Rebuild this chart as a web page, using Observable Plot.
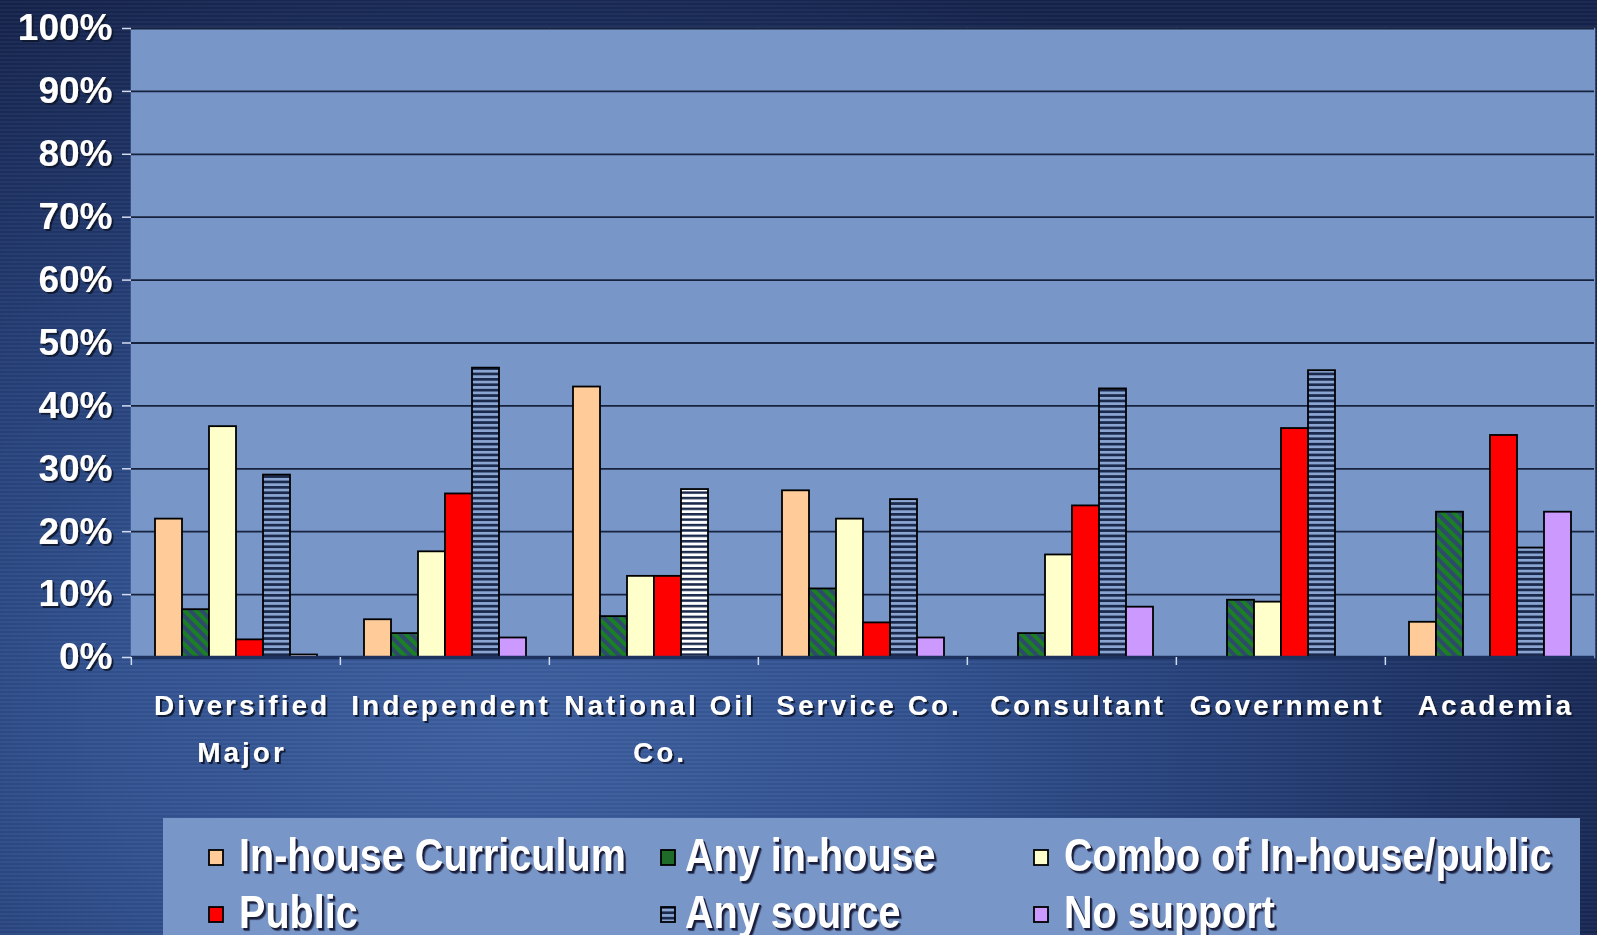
<!DOCTYPE html>
<html>
<head>
<meta charset="utf-8">
<script src="https://cdn.jsdelivr.net/npm/d3@7"></script>
<script src="https://cdn.jsdelivr.net/npm/@observablehq/plot@0.6"></script>
<style>
  html, body { margin: 0; padding: 0; }
  body {
    width: 1597px; height: 935px; overflow: hidden; position: relative;
    font-family: "Liberation Sans", Arial, sans-serif;
    background:
      repeating-linear-gradient(0deg, rgba(255,255,255,0.035) 0 2px, rgba(0,0,0,0.035) 2px 4px),
      radial-gradient(ellipse 75% 85% at 32% 78%, #3D5FA0 0%, #31518F 35%, #233C73 65%, #15234C 100%);
  }
  #chart { position: absolute; left: 0; top: 0; }
  #chart svg { overflow: visible; }
  g[aria-label="fx-axis tick label"] text { letter-spacing: 3px; filter: url(#txtShadow); }
  g[aria-label="y-axis tick label"] text { filter: url(#txtShadow); }
  #legend { position: absolute; left: 163px; top: 818px; width: 1417px; height: 140px; background: #7896C8; }
  .item { position: absolute; white-space: nowrap; }
  .item svg { position: absolute; }
  .item span {
    position: absolute; display: inline-block; transform: scaleX(0.86); transform-origin: left center;
    color: #fff; font-weight: bold; font-size: 46px; line-height: 46px;
    text-shadow: 2px 2px 0 #1b1f3c, 3px 3px 1px rgba(10,12,40,0.6);
  }
</style>
</head>
<body>
<svg width="0" height="0" style="position:absolute">
  <defs>
    <pattern id="diagGreen" width="8" height="8" patternUnits="userSpaceOnUse" patternTransform="rotate(-45)">
      <rect width="8" height="8" fill="#2E4B6C"></rect>
      <rect width="4" height="8" fill="#1B7F24"></rect>
    </pattern>
    <pattern id="stripeNavy" width="6" height="5.4" patternUnits="userSpaceOnUse">
      <rect width="6" height="5.4" fill="#8AA5D2"></rect>
      <rect width="6" height="2.7" fill="#1B2A4C"></rect>
    </pattern>
    <pattern id="stripeWhite" width="6" height="5.4" patternUnits="userSpaceOnUse">
      <rect width="6" height="5.4" fill="#FFFFFF"></rect>
      <rect width="6" height="2.5" fill="#1B2A4C"></rect>
    </pattern>
    <filter id="txtShadow" x="-10%" y="-20%" width="130%" height="150%">
      <feDropShadow dx="2" dy="2" stdDeviation="0.6" flood-color="#10142e" flood-opacity="0.9"></feDropShadow>
    </filter>
  </defs>
</svg>
<div id="chart"></div>
<div id="legend"></div>
<script>
// ---- data (percent of respondents) ----
const categories = ["Diversified\nMajor", "Independent", "National Oil\nCo.", "Service Co.", "Consultant", "Government", "Academia"];
const seriesNames = ["In-house Curriculum", "Any in-house", "Combo of In-house/public", "Public", "Any source", "No support"];
const inHouseCurriculum = [22, 6, 43, 26.5, null, null, 5.6];
const anyInHouse        = [7.6, 3.8, 6.5, 10.9, 3.8, 9.1, 23.1];
const comboInHousePublic= [36.7, 16.8, 12.9, 22, 16.3, 8.8, null];
const publicSupport     = [2.8, 26, 12.9, 5.5, 24.1, 36.4, 35.3];
const anySource         = [29, 46, 26.7, 25.1, 42.7, 45.6, 17.4];
const noSupport         = [0.4, 3.1, null, 3.1, 8, null, 23.1];
const yTicks = [0, 10, 20, 30, 40, 50, 60, 70, 80, 90, 100];

const seriesValues = [inHouseCurriculum, anyInHouse, comboInHousePublic, publicSupport, anySource, noSupport];

// ---- styles ----
const plotBg = "#7896C8";
const seriesFill = {
  "In-house Curriculum": "#FFCC99",
  "Any in-house": "url(#diagGreen)",
  "Combo of In-house/public": "#FFFFCC",
  "Public": "#FF0000",
  "Any source": "url(#stripeNavy)",
  "No support": "#CC99FF"
};
const swatchFill = Object.assign({}, seriesFill, {"Any in-house": "#1F6B2A"});
function fillOf(d) {
  if (d.series === "Any source" && d.category === "National Oil\nCo.") return "url(#stripeWhite)";
  if (d.series === "No support" && d.category === "Diversified\nMajor") return "#FFFFFF";
  return seriesFill[d.series];
}

const rows = [];
categories.forEach((c, i) => seriesNames.forEach((s, j) => {
  const v = seriesValues[j][i];
  if (v != null) rows.push({category: c, series: s, value: v});
}));

const W = 1597, H = 800, ML = 130, MR = 2, MT = 28, MB = 143;
const facetW = (W - ML - MR) / categories.length;
const dark = "#17223E";

const chart = Plot.plot({
  width: W, height: H,
  marginTop: MT, marginBottom: MB, marginLeft: ML, marginRight: MR,
  style: {background: "transparent", color: "#ffffff", fontFamily: "'Liberation Sans', Arial, sans-serif", fontWeight: "bold"},
  fx: {domain: categories, padding: 0, label: null},
  x: {domain: seriesNames, paddingInner: 0, paddingOuter: 0.75, axis: null},
  y: {domain: [0, 100], label: null},
  color: {type: "identity"},
  marks: [
    Plot.frame({fill: plotBg, stroke: plotBg, strokeWidth: 1.5}),
    Plot.ruleY(yTicks, {stroke: dark, strokeWidth: 1.8}),
    Plot.barY(rows, {fx: "category", x: "series", y: "value", fill: fillOf, stroke: "#000", strokeWidth: 1.8}),
    Plot.ruleY([0], {stroke: "#1E3260", strokeWidth: 3.5}),
    Plot.axisY({anchor: "left", ticks: yTicks, tickSize: 0, tickFormat: () => "", line: true, stroke: dark, strokeWidth: 2, label: null}),
    Plot.axisY({anchor: "right", ticks: yTicks, tickSize: 0, tickFormat: () => "", line: true, stroke: dark, strokeWidth: 2, label: null}),
    Plot.axisY({anchor: "left", ticks: yTicks, tickSize: 9, tickPadding: 10, tickFormat: d => d + "%", fontSize: 37, stroke: "#D2DCF0", strokeWidth: 1.5, label: null}),
    Plot.axisFx({anchor: "bottom", tickSize: 8, tickFormat: () => "", dx: -facetW / 2, stroke: "#D2DCF0", strokeWidth: 1.5, label: null}),
    Plot.axisFx({anchor: "bottom", tickSize: 0, tickPadding: 24, fontSize: 28, lineHeight: 1.68, dx: 6, label: null})
  ]
});
document.getElementById("chart").appendChild(chart);

// ---- legend ----
const legend = document.getElementById("legend");
const colSwatchX = [208, 660, 1033], colTextX = [239, 685, 1064], rowY = [857, 914];
seriesNames.forEach((s, k) => {
  const col = k % 3, row = Math.floor(k / 3);
  const it = document.createElement("div");
  it.className = "item";
  it.style.left = "0px"; it.style.top = "0px";
  const sw = document.createElementNS("http://www.w3.org/2000/svg", "svg");
  sw.setAttribute("width", 17); sw.setAttribute("height", 17);
  sw.style.left = (colSwatchX[col] - 163) + "px";
  sw.style.top = (rowY[row] - 8 - 818) + "px";
  const r = document.createElementNS("http://www.w3.org/2000/svg", "rect");
  r.setAttribute("x", 1); r.setAttribute("y", 1); r.setAttribute("width", 14); r.setAttribute("height", 15);
  r.setAttribute("fill", s === "Any source" ? "url(#stripeNavy)" : swatchFill[s]);
  r.setAttribute("stroke", "#000"); r.setAttribute("stroke-width", 1.8);
  sw.appendChild(r);
  const t = document.createElement("span");
  t.textContent = s;
  t.style.left = (colTextX[col] - 163) + "px";
  t.style.top = (rowY[row] - 23 - 818 - 2) + "px";
  it.appendChild(sw); it.appendChild(t);
  legend.appendChild(it);
});
</script>
</body>
</html>
